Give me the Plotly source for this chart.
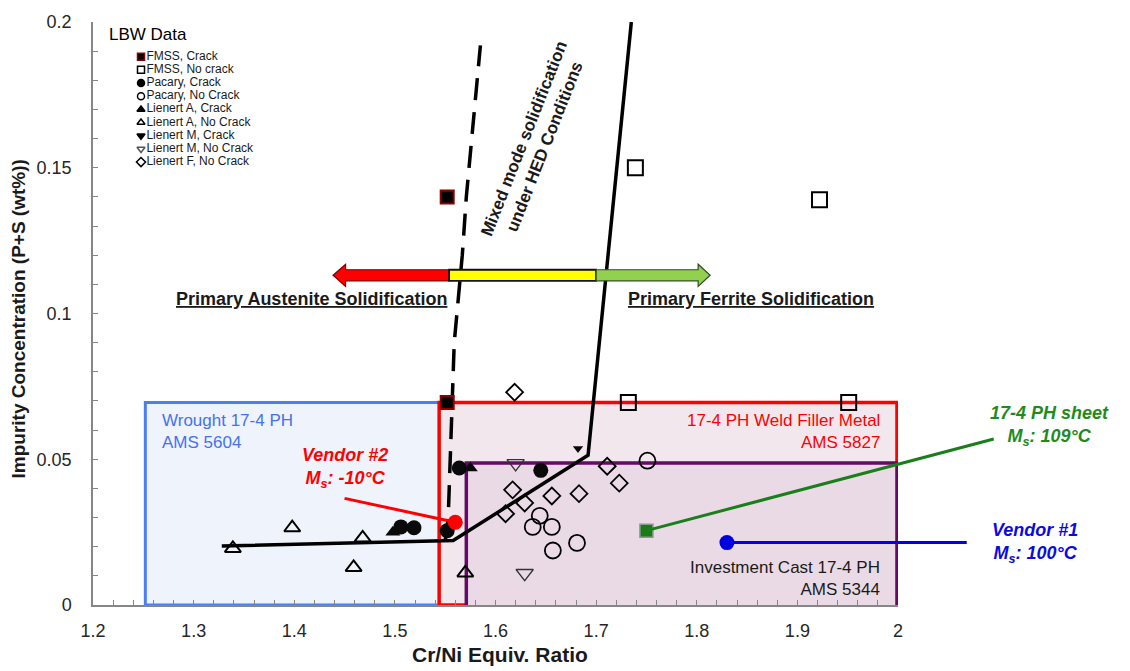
import plotly.graph_objects as go

# ---------------- data ----------------
fmss_crack_x = [1.552, 1.552]
fmss_crack_y = [0.140, 0.0695]
fmss_nocrack_x = [1.739, 1.922, 1.732, 1.951]
fmss_nocrack_y = [0.150, 0.139, 0.0695, 0.0695]
pacary_crack_x = [1.506, 1.519, 1.552, 1.564, 1.645]
pacary_crack_y = [0.0268, 0.0265, 0.0255, 0.0470, 0.0462]
pacary_nocrack_x = [1.644, 1.637, 1.656, 1.657, 1.681, 1.751]
pacary_nocrack_y = [0.0306, 0.0268, 0.0268, 0.0187, 0.0213, 0.0495]
lienA_crack_x = [1.498, 1.575]
lienA_crack_y = [0.0250, 0.0470]
lienA_nocrack_x = [1.339, 1.398, 1.468, 1.459, 1.570]
lienA_nocrack_y = [0.0194, 0.0265, 0.0230, 0.0129, 0.0110]
lienM_crack_x = [1.682]
lienM_crack_y = [0.0537]
lienM_nocrack_x = [1.620, 1.629]
lienM_nocrack_y = [0.0486, 0.0109]
lienF_nocrack_x = [1.619, 1.617, 1.629, 1.610, 1.656, 1.683, 1.711, 1.723]
lienF_nocrack_y = [0.0730, 0.0395, 0.0350, 0.0313, 0.0374, 0.0382, 0.0476, 0.0418]

boundary_solid_x = [1.328, 1.558, 1.692, 1.735]
boundary_solid_y = [0.0202, 0.0221, 0.0514, 0.200]
boundary_dash_x = [1.550, 1.553, 1.556, 1.559, 1.567, 1.571, 1.585]
boundary_dash_y = [0.022, 0.030, 0.060, 0.090, 0.120, 0.140, 0.192]

vendor2_x, vendor2_y = 1.560, 0.0284
sheet_x, sheet_y = 1.750, 0.0255
vendor1_x, vendor1_y = 1.830, 0.0214

legend_labels = ["FMSS, Crack", "FMSS, No crack", "Pacary, Crack", "Pacary, No Crack",
                 "Lienert A, Crack", "Lienert A, No Crack", "Lienert M, Crack",
                 "Lienert M, No Crack", "Lienert F, No Crack"]
legend_symbols = ["square", "square-open", "circle", "circle-open", "triangle-up",
                  "triangle-up-open", "triangle-down", "triangle-down-open", "diamond-open"]
legend_colors = ["#000000", "#000000", "#000000", "#000000", "#000000",
                 "#000000", "#000000", "#555555", "#000000"]
legend_line_colors = ["#8b0000"] + ["#000000"] * 8

FONT = "Liberation Sans, Arial, sans-serif"

fig = go.Figure()

# ---------------- region rectangles ----------------
fig.add_shape(type="rect", xref="x", yref="y", x0=1.252, x1=1.56, y0=0, y1=0.0695,
              fillcolor="#eff3fb", line=dict(color="#4a7ef5", width=3), layer="between")
fig.add_shape(type="rect", xref="x", yref="y", x0=1.544, x1=1.999, y0=0, y1=0.0695,
              fillcolor="#f3e7ee", line=dict(color="#ff0000", width=3.5), layer="between")
fig.add_shape(type="rect", xref="x", yref="y", x0=1.571, x1=1.999, y0=-0.0008, y1=0.0487,
              fillcolor="#eadae5", line=dict(color="#650a66", width=3.5), layer="between")

# ---------------- boundary lines ----------------
fig.add_trace(go.Scatter(x=boundary_dash_x, y=boundary_dash_y, mode="lines",
                         line=dict(color="black", width=3.5, dash="22px,12px"),
                         showlegend=False, hoverinfo="skip"))
fig.add_trace(go.Scatter(x=boundary_solid_x, y=boundary_solid_y, mode="lines",
                         line=dict(color="black", width=3.5),
                         showlegend=False, hoverinfo="skip"))

# ---------------- data markers ----------------
def add_pts(x, y, symbol, size, color="black", lw=2, lcolor="black"):
    fig.add_trace(go.Scatter(x=x, y=y, mode="markers", showlegend=False, cliponaxis=False,
                             marker=dict(symbol=symbol, size=size, color=color,
                                         line=dict(width=lw, color=lcolor))))

add_pts(lienF_nocrack_x, lienF_nocrack_y, "diamond-open", 13, lw=1.8)
add_pts(pacary_nocrack_x, pacary_nocrack_y, "circle-open", 16, lw=1.8)
add_pts(lienA_nocrack_x, lienA_nocrack_y, "triangle-up-open", 14, lw=2)
add_pts(lienM_nocrack_x, lienM_nocrack_y, "triangle-down-open", 15, color="#333333", lw=1.3)
add_pts(fmss_nocrack_x, fmss_nocrack_y, "square-open", 15, lw=2)
add_pts(pacary_crack_x, pacary_crack_y, "circle", 15, color="#0a0a0a", lw=0)
add_pts(lienA_crack_x, lienA_crack_y, "triangle-up", 13, color="#0a0a0a", lw=0)
add_pts(lienM_crack_x, lienM_crack_y, "triangle-down", 9, color="#0a0a0a", lw=0)
add_pts(fmss_crack_x, fmss_crack_y, "square", 13, color="#000000", lw=2, lcolor="#8b0000")

# vendor / sheet points
add_pts([vendor2_x], [vendor2_y], "circle", 15, color="#ff0000", lw=0)
add_pts([sheet_x], [sheet_y], "square", 13, color="#1a7a1a", lw=1.5, lcolor="#8a9a8a")
add_pts([vendor1_x], [vendor1_y], "circle", 15, color="#0000dd", lw=0)

# ---------------- custom legend ----------------
leg_x0 = 1.2477
leg_y0 = 0.1881
leg_step = 0.00452
fig.add_trace(go.Scatter(
    x=[leg_x0] * len(legend_labels),
    y=[leg_y0 - i * leg_step for i in range(len(legend_labels))],
    mode="markers+text", text=legend_labels, textposition="middle right",
    textfont=dict(family=FONT, size=12, color="#1a1a1a"),
    marker=dict(symbol=legend_symbols, size=7, color=legend_colors,
                line=dict(width=1.5, color=legend_line_colors)),
    showlegend=False, cliponaxis=False, hoverinfo="skip"))

annotations = []
annotations.append(dict(x=1.2139, y=0.1958, xref="x", yref="y", text="LBW Data",
                        showarrow=False, xanchor="left", yanchor="middle",
                        font=dict(family=FONT, size=17, color="black")))

# region labels
annotations.append(dict(x=1.2666, y=0.0595, xref="x", yref="y",
                        text="Wrought 17-4 PH<br>AMS 5604", showarrow=False,
                        xanchor="left", yanchor="middle", align="left",
                        font=dict(family=FONT, size=17, color="#4472f0")))
annotations.append(dict(x=1.9843, y=0.0595, xref="x", yref="y",
                        text="17-4 PH Weld Filler Metal<br>AMS 5827", showarrow=False,
                        xanchor="right", yanchor="middle", align="right",
                        font=dict(family=FONT, size=17, color="#ff0000")))
annotations.append(dict(x=1.9843, y=0.0092, xref="x", yref="y",
                        text="Investment Cast 17-4 PH<br>AMS 5344", showarrow=False,
                        xanchor="right", yanchor="middle", align="right",
                        font=dict(family=FONT, size=17, color="#1a1a1a")))

# mixed mode text
annotations.append(dict(x=1.6390, y=0.1585, xref="x", yref="y",
                        text="<b>Mixed mode solidification<br>under HED Conditions</b>",
                        showarrow=False, textangle=-68.5, xanchor="center", yanchor="middle",
                        font=dict(family=FONT, size=17, color="#1a1a1a")))

# solidification labels
annotations.append(dict(x=1.4167, y=0.1050, xref="x", yref="y",
                        text="<b><u>Primary Austenite Solidification</u></b>", showarrow=False,
                        xanchor="center", yanchor="middle",
                        font=dict(family=FONT, size=18, color="#1a1a1a")))
annotations.append(dict(x=1.854, y=0.1050, xref="x", yref="y",
                        text="<b><u>Primary Ferrite Solidification</u></b>", showarrow=False,
                        xanchor="center", yanchor="middle",
                        font=dict(family=FONT, size=18, color="#1a1a1a")))

# callout lines (arrow only)
annotations.append(dict(x=vendor2_x, y=vendor2_y, ax=1.4485, ay=0.0367, xref="x", yref="y",
                        axref="x", ayref="y", text="", showarrow=True, arrowhead=0,
                        arrowwidth=3, arrowcolor="#ff0000", standoff=0, startstandoff=0))
annotations.append(dict(x=sheet_x, y=sheet_y, ax=2.0966, ay=0.0571, xref="x", yref="y",
                        axref="x", ayref="y", text="", showarrow=True, arrowhead=0,
                        arrowwidth=3, arrowcolor="#1a7f1a", standoff=0, startstandoff=0))
annotations.append(dict(x=vendor1_x, y=vendor1_y, ax=2.0698, ay=0.0214, xref="x", yref="y",
                        axref="x", ayref="y", text="", showarrow=True, arrowhead=0,
                        arrowwidth=3, arrowcolor="#0000ee", standoff=0, startstandoff=0))

# callout texts
annotations.append(dict(x=1.4505, y=0.0469, xref="x", yref="y",
                        text="<b><i>Vendor #2<br>M<sub>s</sub>: -10°C</i></b>", showarrow=False,
                        xanchor="center", yanchor="middle",
                        font=dict(family=FONT, size=18, color="#ff0000")))
annotations.append(dict(x=1.1888, y=0.3078, xref="paper", yref="paper",
                        text="<b><i>17-4 PH sheet<br>M<sub>s</sub>: 109°C</i></b>", showarrow=False,
                        xanchor="center", yanchor="middle",
                        font=dict(family=FONT, size=18, color="#1f8b1f")))
annotations.append(dict(x=1.1702, y=0.1071, xref="paper", yref="paper",
                        text="<b><i>Vendor #1<br>M<sub>s</sub>: 100°C</i></b>", showarrow=False,
                        xanchor="center", yanchor="middle",
                        font=dict(family=FONT, size=18, color="#0a0ae6")))

# axis titles
annotations.append(dict(x=-0.093, y=0.49, xref="paper", yref="paper",
                        text="<b>Impurity Concentration (P+S (wt%))</b>", showarrow=False,
                        textangle=-90, xanchor="center", yanchor="middle",
                        font=dict(family=FONT, size=19, color="#1a1a1a")))
annotations.append(dict(x=0.505, y=-0.085, xref="paper", yref="paper",
                        text="<b>Cr/Ni Equiv. Ratio</b>", showarrow=False,
                        xanchor="center", yanchor="middle",
                        font=dict(family=FONT, size=21, color="#1a1a1a")))

# ---------------- arrows (red / yellow / green) ----------------
ay_top, ay_bot = 0.1150, 0.1112
ah_top, ah_bot = 0.1169, 0.1093
ay_mid = (ay_top + ay_bot) / 2
rx_tip, rx_base, rx_end = 1.4386, 1.4510, 1.5539
gx_start, gx_base, gx_tip = 1.7000, 1.8014, 1.8133

red_path = (f"M {rx_tip},{ay_mid} L {rx_base},{ah_top} L {rx_base},{ay_top} "
            f"L {rx_end},{ay_top} L {rx_end},{ay_bot} L {rx_base},{ay_bot} "
            f"L {rx_base},{ah_bot} Z")
green_path = (f"M {gx_start},{ay_top} L {gx_base},{ay_top} L {gx_base},{ah_top} "
              f"L {gx_tip},{ay_mid} L {gx_base},{ah_bot} L {gx_base},{ay_bot} "
              f"L {gx_start},{ay_bot} Z")
fig.add_shape(type="path", path=red_path, xref="x", yref="y",
              fillcolor="#ff0000", line=dict(color="#7a0000", width=1.2), layer="above")
fig.add_shape(type="rect", x0=rx_end, x1=gx_start, y0=ay_bot, y1=ay_top, xref="x", yref="y",
              fillcolor="#ffff00", line=dict(color="#111111", width=1.8), layer="above")
fig.add_shape(type="path", path=green_path, xref="x", yref="y",
              fillcolor="#92d050", line=dict(color="#2f4f1f", width=1.2), layer="above")

axis_gray = "#868686"
fig.update_layout(
    width=1130, height=671,
    margin=dict(l=93, r=232, t=17, b=66),
    paper_bgcolor="white", plot_bgcolor="white",
    showlegend=False,
    annotations=annotations,
    font=dict(family=FONT, color="#1a1a1a"),
    xaxis=dict(range=[1.2, 2.0], dtick=0.1, tick0=1.2, showgrid=False, zeroline=False,
               showline=True, linecolor=axis_gray, linewidth=1.5,
               ticks="inside", ticklen=5, tickcolor=axis_gray, tickwidth=1,
               minor=dict(dtick=0.02, ticks="inside", ticklen=5, tickcolor=axis_gray, showgrid=False),
               tickfont=dict(family=FONT, size=18, color="#262626"), ticklabelstandoff=9),
    yaxis=dict(range=[0, 0.2], dtick=0.05, tick0=0, showgrid=False, zeroline=False,
               showline=True, linecolor=axis_gray, linewidth=1.5,
               ticks="inside", ticklen=5, tickcolor=axis_gray, tickwidth=1,
               minor=dict(dtick=0.01, ticks="inside", ticklen=5, tickcolor=axis_gray, showgrid=False),
               tickfont=dict(family=FONT, size=18, color="#262626"), ticklabelstandoff=16),
)

fig.write_html("out.html")
